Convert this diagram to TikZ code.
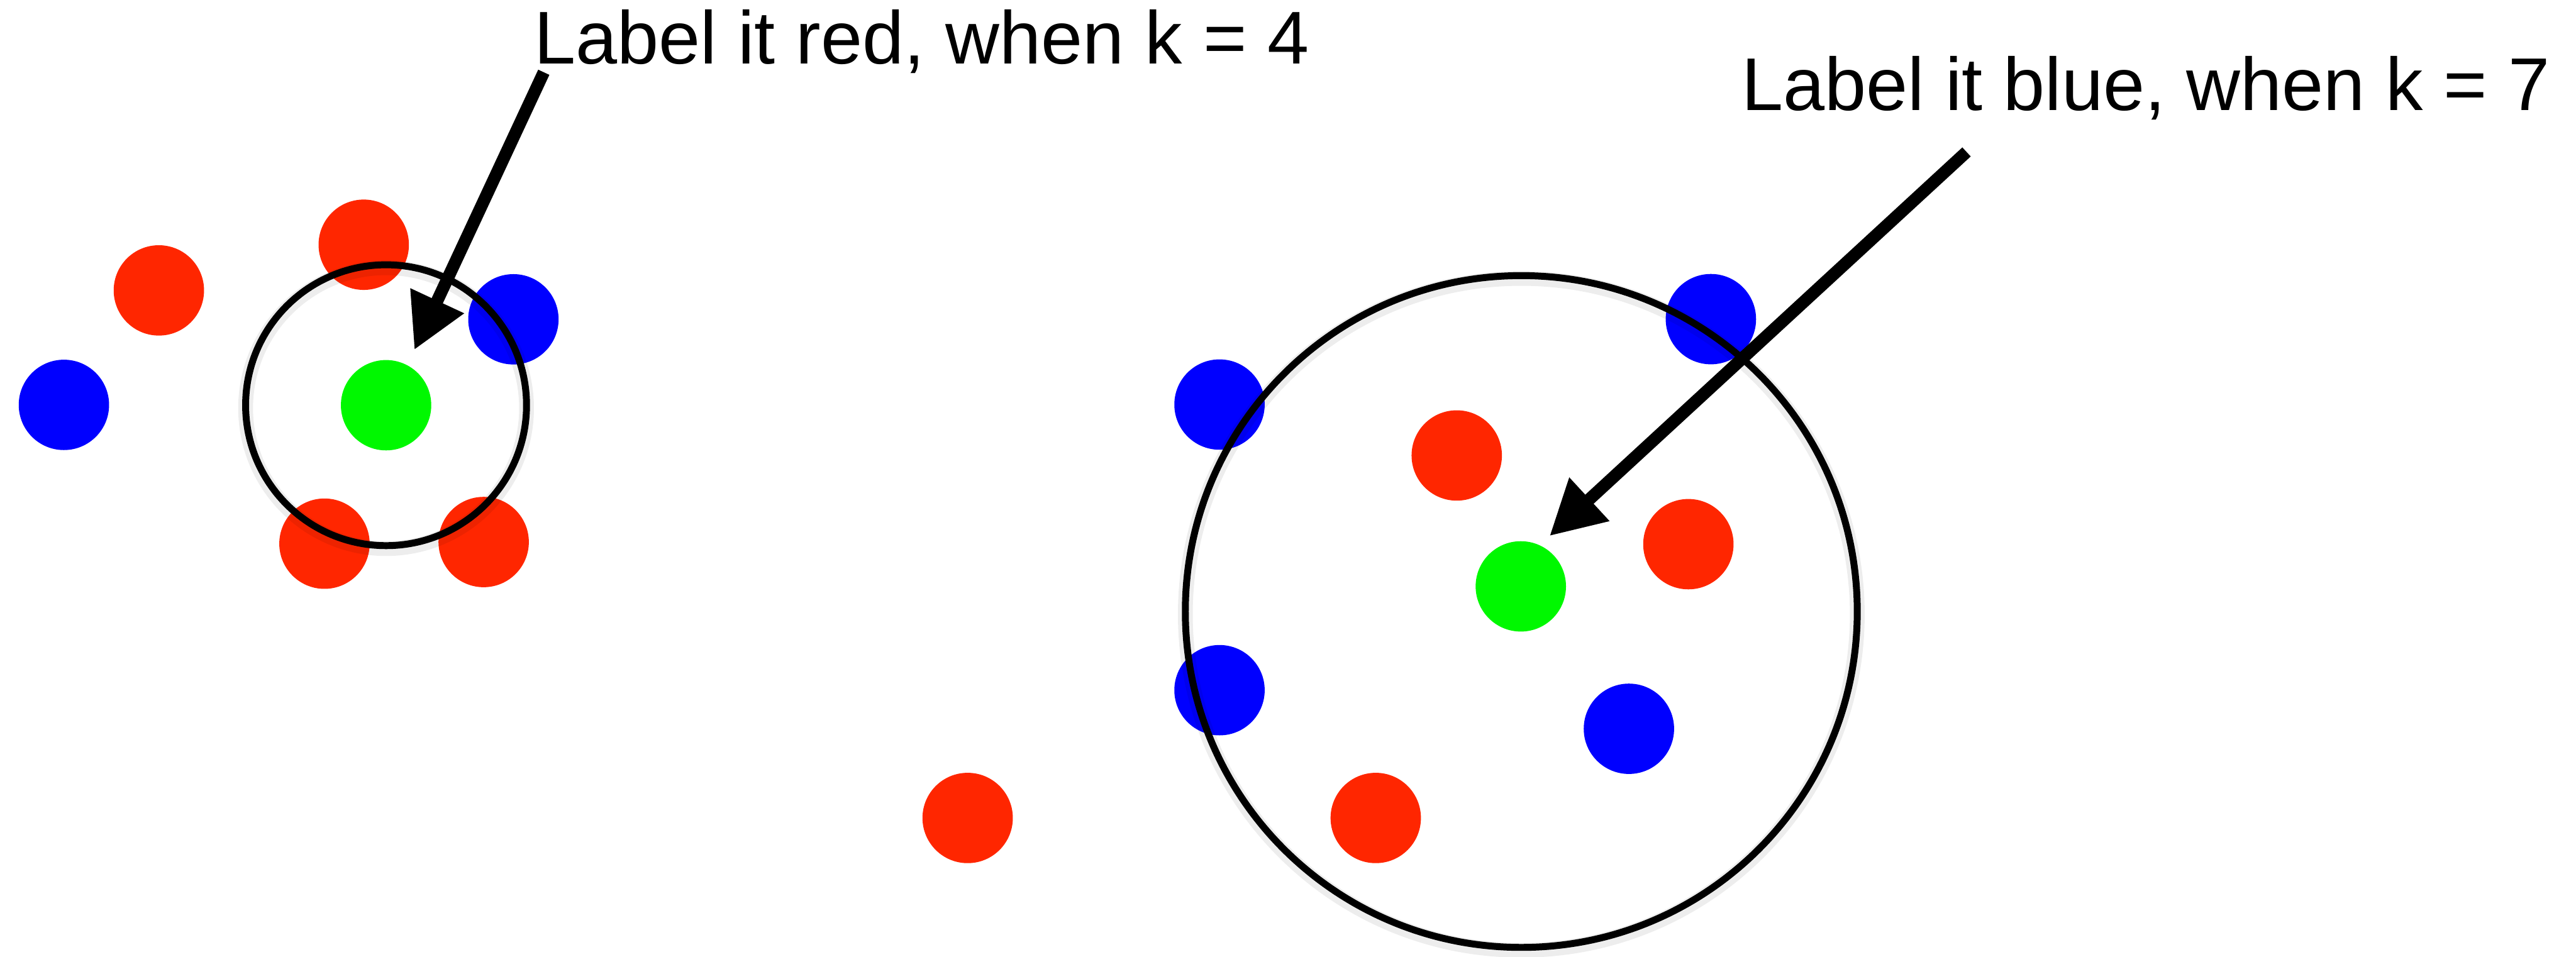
\documentclass[tikz,border=0pt]{standalone}
\usepackage{fontspec}
\setmainfont{Liberation Sans}
\usetikzlibrary{arrows.meta}
\definecolor{dred}{HTML}{FF2600}
\definecolor{dblue}{HTML}{0000FF}
\definecolor{dgreen}{HTML}{00F800}
\begin{document}
\begin{tikzpicture}[x=1pt,y=-1pt,
  dot/.style={circle,minimum size=55pt,inner sep=0pt,draw=none},
  reddot/.style={dot,fill=dred},
  bluedot/.style={dot,fill=dblue},
  greendot/.style={dot,fill=dgreen},
  ring/.style={circle,draw=black,line width=4.2pt,inner sep=0pt},
  ringshadow/.style={circle,draw=black,draw opacity=0.07,line width=9pt,inner sep=0pt},
  pointer/.style={line width=7.5pt,-{Triangle[length=33pt,width=34pt]}},
  lbl/.style={anchor=base west,inner sep=0pt,font=\fontsize{45.5}{54}\selectfont}]
\useasboundingbox (0,0) rectangle (1568,582.55);

% left group
\node[reddot] (r1) at (221.4,149) {};
\node[reddot] (r2) at (96.7,176.8) {};
\node[reddot] (r3) at (197.5,331) {};
\node[reddot] (r4) at (294.4,330) {};
\node[bluedot] (b1) at (38.9,246.5) {};
\node[bluedot] (b2) at (312.5,194.4) {};
\node[greendot] (g1) at (235,246.7) {};

% right group
\node[reddot] (r5) at (886.7,277.3) {};
\node[reddot] (r6) at (1027.7,331.3) {};
\node[reddot] (r7) at (837.4,498) {};
\node[reddot] (r8) at (589,498) {};
\node[bluedot] (b3) at (742.3,246.3) {};
\node[bluedot] (b4) at (1041.4,194.3) {};
\node[bluedot] (b5) at (742.3,420.2) {};
\node[bluedot] (b6) at (991.5,443.7) {};
\node[greendot] (g2) at (925.7,357) {};

% neighbourhood circles
\node[ringshadow,minimum size=171pt] at (235,248.5) {};
\node[ringshadow,minimum size=409pt] at (926,374) {};
\node[ring,minimum size=171pt] (c1) at (235,246.7) {};
\node[ring,minimum size=409pt] (c2) at (926,372.3) {};

% labels
\node[lbl] (t1) at (325,39) {Label it red, when k = 4};
\node[lbl] (t2) at (1060,67) {Label it blue, when k = 7};

% arrows
\coordinate (a1s) at (331,44);
\coordinate (a1e) at (252.2,213);
\coordinate (a2s) at (1197,92.5);
\coordinate (a2e) at (943.2,326.3);
\draw[pointer] (a1s) -- (a1e);
\draw[pointer] (a2s) -- (a2e);
\end{tikzpicture}
\end{document}
